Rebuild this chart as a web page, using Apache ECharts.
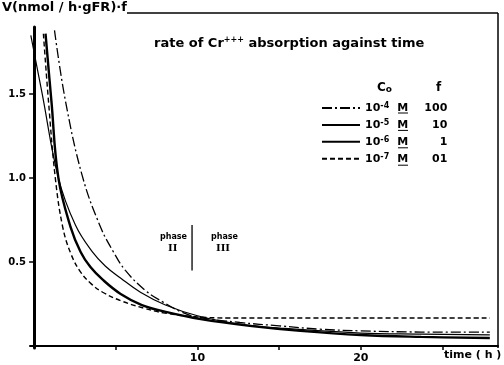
<!DOCTYPE html>
<html>
<head>
<meta charset="utf-8">
<script src="https://cdn.jsdelivr.net/npm/echarts@6/dist/echarts.min.js"></script>
<style>
  html, body { margin: 0; padding: 0; background: #fff; }
  #chart { width: 504px; height: 365px; }
</style>
</head>
<body>
<div id="chart"></div>
<script>
// Uptake rate V (nmol / h·gFR) scaled by factor f, against time (h)
// Each curve: [time (h), V·f]
const conc_1e4 = [ // 10^-4 M, f = 100 (dash-dot)
  [1.25, 1.88], [1.92, 1.46], [2.96, 1.01], [4.06, 0.71], [4.86, 0.56],
  [5.59, 0.45], [6.82, 0.33], [7.92, 0.26], [8.96, 0.205], [10.0, 0.172],
  [12.6, 0.14], [15.0, 0.12], [17.5, 0.10], [20.0, 0.09], [23.7, 0.083], [27.9, 0.082]
];
const conc_1e5 = [ // 10^-5 M, f = 10 (thin solid)
  [-0.2, 1.85], [0.5, 1.5], [1.49, 1.0], [2.53, 0.72], [3.57, 0.56],
  [4.37, 0.475], [5.29, 0.405], [6.51, 0.32], [8.04, 0.244], [10.0, 0.18],
  [12.6, 0.13], [15.0, 0.107], [20.0, 0.077], [23.7, 0.071], [27.9, 0.066]
];
const conc_1e6 = [ // 10^-6 M, f = 1 (thick solid)
  [0.70, 1.86], [1.06, 1.46], [1.49, 1.0], [2.23, 0.71], [2.85, 0.56],
  [3.45, 0.47], [4.2, 0.395], [5.3, 0.31], [6.6, 0.244], [8.2, 0.20],
  [10.2, 0.16], [13.2, 0.12], [16.3, 0.09], [20.0, 0.065], [23.7, 0.054], [27.9, 0.048]
];
const conc_1e7 = [ // 10^-7 M, f = 0.1 (dashed)
  [0.57, 1.86], [0.88, 1.46], [1.3, 1.0], [1.75, 0.71], [2.25, 0.55],
  [2.85, 0.44], [3.5, 0.37], [4.2, 0.32], [5.3, 0.27], [6.7, 0.226],
  [8.0, 0.196], [10.0, 0.173], [12.0, 0.167], [27.9, 0.167]
];
const phaseBoundary = [[9.67, 0.72], [9.67, 0.45]];

const seriesNames = ['-4', '-5', '-6', '-7'];
const factors = ['100', '10', '1', '01'];
const xTicks = [5, 10, 15, 20, 25];
const xLabels = [10, 20];
const yTicks = [0.5, 1.0, 1.5];

const FONT = 'DejaVu Sans';
const chart = echarts.init(document.getElementById('chart'));

const factorOf = {};
seriesNames.forEach((n, i) => { factorOf[n] = factors[i]; });

function curve(name, data, width, type) {
  return {
    name: name, type: 'line', data: data, smooth: 0.4,
    symbol: 'none', silent: true,
    lineStyle: { color: '#000', width: width, type: type },
    itemStyle: { color: '#000' }
  };
}

// underline beneath each molar "M" in the legend rows
const LEGEND_TOP = 97, ROW_STEP = 17.4;
const mUnderlines = seriesNames.map((n, i) => ({
  type: 'line',
  shape: { x1: 398, y1: LEGEND_TOP + 16 + i * ROW_STEP, x2: 408, y2: LEGEND_TOP + 16 + i * ROW_STEP },
  style: { stroke: '#000', lineWidth: 1 }
}));

chart.setOption({
  animation: false,
  backgroundColor: '#fff',
  textStyle: { fontFamily: FONT, color: '#000' },
  title: {
    text: 'rate of Cr{sup|+++} absorption against time',
    left: 149, top: 31,
    textStyle: {
      fontFamily: FONT, fontSize: 13, fontWeight: 'bold', color: '#000',
      rich: { sup: { fontFamily: FONT, fontSize: 8, fontWeight: 'bold', verticalAlign: 'top', padding: [0, 0, 7, 0] } }
    }
  },
  grid: { left: 30, right: 6, top: 27, bottom: 17 },
  legend: {
    data: seriesNames,
    orient: 'vertical', left: 316, top: LEGEND_TOP,
    itemWidth: 38, itemHeight: 10, itemGap: 5.4,
    selectedMode: false,
    itemStyle: { opacity: 0 },
    formatter: n => '{b|10}{sup|' + n + '}{m|M}{f|' + factorOf[n] + '}',
    textStyle: {
      fontFamily: FONT, color: '#000',
      rich: {
        b: { fontFamily: FONT, fontSize: 11, fontWeight: 'bold', lineHeight: 12 },
        sup: { fontFamily: FONT, fontSize: 8, fontWeight: 'bold', verticalAlign: 'top', width: 17, lineHeight: 12 },
        m: { fontFamily: FONT, fontSize: 11, fontWeight: 'bold', width: 12, lineHeight: 12 },
        f: { fontFamily: FONT, fontSize: 11, fontWeight: 'bold', width: 38, align: 'right', lineHeight: 12 }
      }
    }
  },
  xAxis: {
    type: 'value', min: -0.25, max: 28.4,
    splitLine: { show: false },
    axisLine: { lineStyle: { color: '#000', width: 2 } },
    axisTick: { customValues: xTicks, length: 4, lineStyle: { color: '#000', width: 1.5 } },
    axisLabel: { customValues: xLabels, margin: 5, fontFamily: FONT, fontSize: 11, fontWeight: 'bold', color: '#000' }
  },
  yAxis: {
    type: 'value', min: -0.012, max: 1.9,
    splitLine: { show: false },
    axisLine: { show: true, lineStyle: { color: '#000', width: 3 } },
    axisTick: { show: true, customValues: yTicks, length: 5, lineStyle: { color: '#000', width: 1.5 } },
    axisLabel: { customValues: yTicks, margin: 4, fontFamily: FONT, fontSize: 10, fontWeight: 'bold', color: '#000',
      formatter: v => v.toFixed(1) }
  },
  graphic: [
    { type: 'text', left: 2, top: 1, style: { text: 'V(nmol / h·gFR)·f', font: 'bold 13px ' + FONT, fill: '#000' } },
    { type: 'line', shape: { x1: 127, y1: 13, x2: 498, y2: 13 }, style: { stroke: '#000', lineWidth: 1.5 } },
    { type: 'line', shape: { x1: 498, y1: 13, x2: 498, y2: 348 }, style: { stroke: '#000', lineWidth: 1.5 } },
    { type: 'text', left: 444, top: 350, style: { text: 'time ( h )', font: 'bold 11px ' + FONT, fill: '#000' } },
    { type: 'text', left: 377, top: 82, style: { text: '{c|C}{o|o}', font: 'bold 12px ' + FONT, fill: '#000',
      rich: { c: { font: 'bold 12px ' + FONT }, o: { font: 'bold 9px ' + FONT, verticalAlign: 'bottom', padding: [3, 0, 0, 0] } } } },
    { type: 'text', left: 436, top: 82, style: { text: 'f', font: 'bold 12px ' + FONT, fill: '#000' } },
    { type: 'text', left: 160, top: 233, style: { text: 'phase', font: 'bold 8px ' + FONT, fill: '#000' } },
    { type: 'text', left: 168, top: 243, style: { text: 'II', font: 'bold 10px DejaVu Serif', fill: '#000' } },
    { type: 'text', left: 211, top: 233, style: { text: 'phase', font: 'bold 8px ' + FONT, fill: '#000' } },
    { type: 'text', left: 216, top: 243, style: { text: 'III', font: 'bold 10px DejaVu Serif', fill: '#000' } }
  ].concat(mUnderlines),
  series: [
    curve('-4', conc_1e4, 1.3, [10, 3, 2, 3]),
    curve('-5', conc_1e5, 1.2, 'solid'),
    curve('-6', conc_1e6, 2.4, 'solid'),
    curve('-7', conc_1e7, 1.4, [5, 3]),
    { name: 'boundary', type: 'line', data: phaseBoundary, symbol: 'none', silent: true,
      lineStyle: { color: '#000', width: 1.3 } }
  ]
});
</script>
</body>
</html>
